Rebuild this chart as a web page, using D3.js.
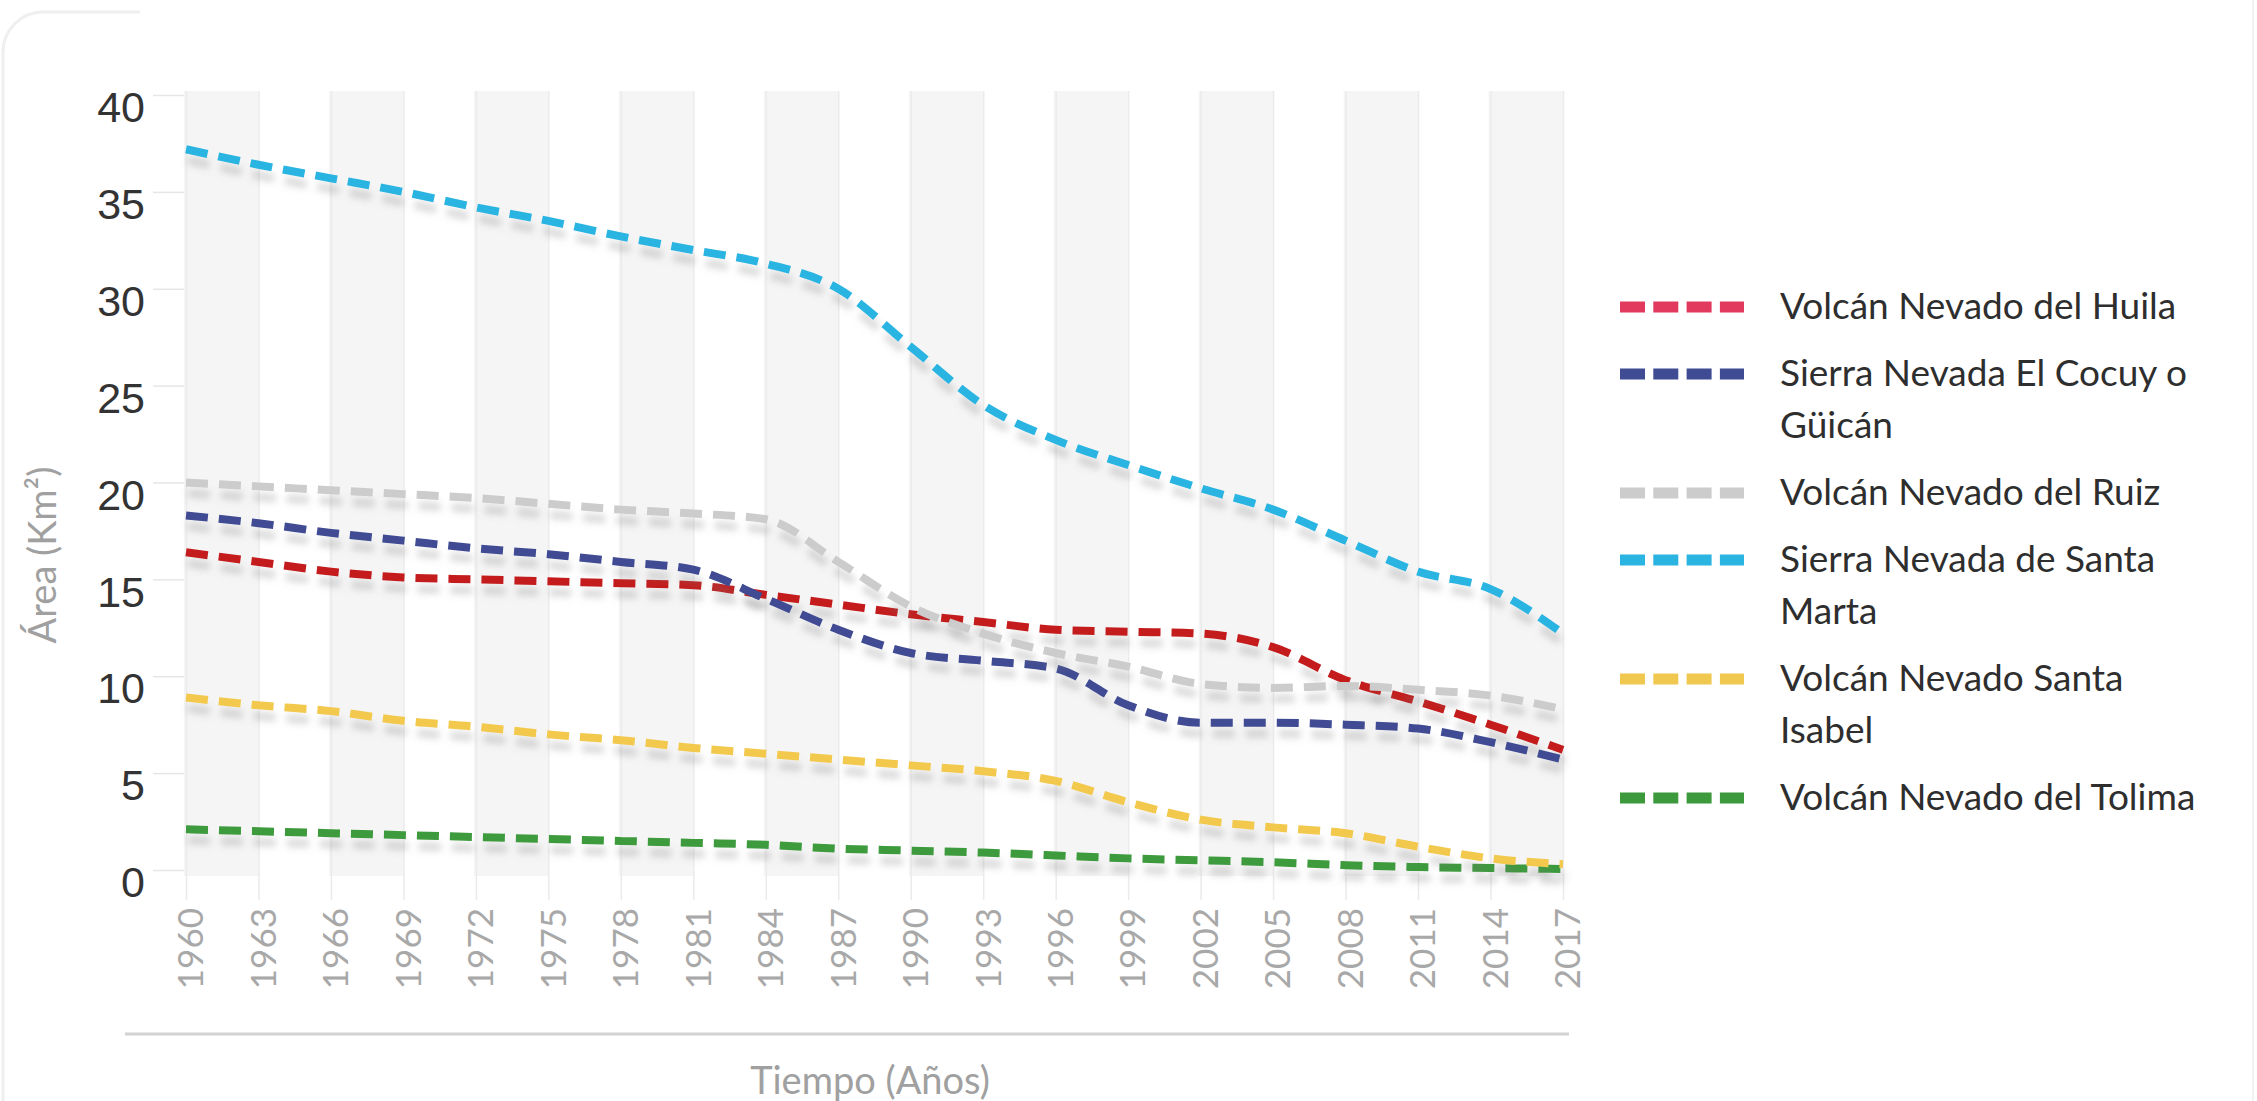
<!DOCTYPE html>
<html>
<head>
<meta charset="utf-8">
<script src="https://cdn.jsdelivr.net/npm/d3@7"></script>
<style>
    body { margin: 0; background: #fff; }
    .y-axis text { font-family: "Liberation Sans", Arial, sans-serif; font-size: 43px; fill: #333; }
    .x-axis text { font-family: Lato, sans-serif; font-size: 35px; fill: #a8a8a8; }
    .axis-title { font-family: Lato, sans-serif; font-size: 38px; fill: #a0a0a0; }
    .legend-text { font-family: Lato, sans-serif; font-size: 37px; fill: #2e2e2e; }
</style>
</head>
<body>
<div id="chart"></div>
<script>
// years on the x axis (one point every 3 years)
var years = [1960, 1963, 1966, 1969, 1972, 1975, 1978, 1981, 1984, 1987,
             1990, 1993, 1996, 1999, 2002, 2005, 2008, 2011, 2014, 2017];

// glacier area, km2
var huila       = [16.4, 15.9, 15.4, 15.1, 15.0, 14.9, 14.8, 14.7, 14.2, 13.7,
                   13.2, 12.8, 12.4, 12.3, 12.2, 11.5, 9.8, 8.7, 7.5, 6.2];
var cocuy       = [18.3, 17.9, 17.4, 17.0, 16.6, 16.3, 15.9, 15.5, 14.0, 12.4,
                   11.2, 10.8, 10.4, 8.5, 7.6, 7.6, 7.5, 7.3, 6.6, 5.7];
var ruiz        = [20.0, 19.8, 19.6, 19.4, 19.2, 18.9, 18.6, 18.4, 18.1, 15.9,
                   13.6, 12.2, 11.2, 10.5, 9.6, 9.4, 9.5, 9.3, 9.0, 8.3];
var santaMarta  = [37.2, 36.4, 35.7, 35.0, 34.2, 33.5, 32.7, 32.0, 31.3, 30.0,
                   27.0, 24.0, 22.2, 20.9, 19.7, 18.6, 17.0, 15.4, 14.5, 12.2];
var santaIsabel = [8.9, 8.5, 8.2, 7.7, 7.4, 7.0, 6.7, 6.3, 6.0, 5.7,
                   5.4, 5.1, 4.6, 3.5, 2.6, 2.2, 1.9, 1.2, 0.6, 0.3];
var tolima      = [2.1, 2.0, 1.9, 1.8, 1.7, 1.6, 1.5, 1.4, 1.3, 1.1,
                   1.0, 0.9, 0.75, 0.6, 0.5, 0.4, 0.25, 0.15, 0.1, 0.05];

var seriesNames = ['Volcán Nevado del Huila', 'Sierra Nevada El Cocuy o Güicán',
                   'Volcán Nevado del Ruiz', 'Sierra Nevada de Santa Marta',
                   'Volcán Nevado Santa Isabel', 'Volcán Nevado del Tolima'];
var yTicks = [0, 5, 10, 15, 20, 25, 30, 35, 40];

(function() {
    var width = 2257,
        height = 1101,
        plot = { left: 184, right: 1565, top: 91, bottom: 870 },
        line_colors = ['#c41c1e', '#3f4c93', '#cccccc', '#2ab4e2', '#f2c94e', '#3c9a3c'],
        legend_colors = ['#e23a5e', '#3f4c93', '#cccccc', '#2ab4e2', '#f0c850', '#3c9a3c'],
        values = [huila, cocuy, ruiz, santaMarta, santaIsabel, tolima];

    var svg = d3.select('#chart').append('svg')
        .attr('width', width)
        .attr('height', height);

    // drop shadow for the series
    var filter = svg.append('defs').append('filter')
        .attr('id', 'shadow')
        .attr('filterUnits', 'userSpaceOnUse')
        .attr('x', 0).attr('y', 0)
        .attr('width', width).attr('height', height);
    filter.append('feGaussianBlur')
        .attr('in', 'SourceAlpha').attr('stdDeviation', 3.5).attr('result', 'blur');
    filter.append('feOffset')
        .attr('in', 'blur').attr('dx', 2).attr('dy', 11).attr('result', 'off');
    filter.append('feFlood')
        .attr('flood-color', '#777').attr('flood-opacity', 0.28);
    filter.append('feComposite')
        .attr('in2', 'off').attr('operator', 'in').attr('result', 'sh');
    var merge = filter.append('feMerge');
    merge.append('feMergeNode').attr('in', 'sh');
    merge.append('feMergeNode').attr('in', 'SourceGraphic');

    // container border (only the left side, corner and right edge show)
    svg.append('path')
        .attr('d', 'M3,' + height + ' V52 A40,40 0 0,1 43,12 H140')
        .attr('fill', 'none')
        .attr('stroke', '#efefef')
        .attr('stroke-width', 3);
    svg.append('line')
        .attr('x1', 2253).attr('x2', 2253)
        .attr('y1', 0).attr('y2', height)
        .attr('stroke', '#f2f2f2')
        .attr('stroke-width', 2);

    var x = d3.scaleLinear().domain([years[0], years[years.length - 1]]).range([186, 1563]);
    var y = d3.scaleLinear().domain([0, 40]).range([plot.bottom, plot.top + 4]);

    // alternating plot bands
    var bands = d3.pairs(years).filter(function(d, i) { return i % 2 == 0; });
    svg.append('g').selectAll('rect')
        .data(bands)
        .enter().append('rect')
        .attr('x', function(d) { return x(d[0]) - 2; })
        .attr('y', plot.top)
        .attr('width', function(d) { return x(d[1]) - x(d[0]) + 2; })
        .attr('height', plot.bottom - plot.top + 6)
        .attr('fill', '#f5f5f5');

    // x axis: faint grid + rotated year labels
    var xAxis = svg.append('g')
        .attr('class', 'x-axis')
        .attr('transform', 'translate(0,' + plot.bottom + ')')
        .call(d3.axisBottom(x).tickValues(years).tickFormat(d3.format('d')).tickSize(30));
    xAxis.select('.domain').remove();
    xAxis.selectAll('line')
        .attr('y1', -(plot.bottom - plot.top))
        .attr('stroke', '#ebebeb')
        .attr('stroke-width', 1.5);
    xAxis.selectAll('text')
        .attr('transform', 'rotate(-90)')
        .attr('x', -38)
        .attr('y', 0)
        .attr('dy', '0.48em')
        .style('text-anchor', 'end');

    // y axis
    var yAxis = svg.append('g')
        .attr('class', 'y-axis')
        .attr('transform', 'translate(' + plot.left + ',0)')
        .call(d3.axisLeft(y).tickValues(yTicks).tickSize(31).tickPadding(8));
    yAxis.select('.domain').remove();
    yAxis.selectAll('line').attr('stroke', '#e6e6e6').attr('stroke-width', 1.5);
    yAxis.selectAll('text').attr('dy', '0.62em');

    // series
    var line = d3.line()
        .x(function(d, i) { return x(years[i]); })
        .y(function(d) { return y(d); })
        .curve(d3.curveMonotoneX);

    // draw bottom-up so the top lines sit over the shadows
    var order = [5, 4, 0, 1, 2, 3];
    svg.append('g').selectAll('path')
        .data(order)
        .enter().append('path')
        .attr('d', function(k) { return line(values[k]); })
        .attr('fill', 'none')
        .attr('stroke', function(k) { return line_colors[k]; })
        .attr('stroke-width', 8)
        .attr('stroke-dasharray', '22,11')
        .attr('filter', 'url(#shadow)');

    // bottom rule
    svg.append('line')
        .attr('x1', 125).attr('x2', 1569)
        .attr('y1', 1034).attr('y2', 1034)
        .attr('stroke', '#d2d2d2')
        .attr('stroke-width', 3);

    // axis titles
    svg.append('text')
        .attr('class', 'axis-title')
        .attr('x', 870)
        .attr('y', 1094)
        .attr('text-anchor', 'middle')
        .text('Tiempo (Años)');

    svg.append('text')
        .attr('class', 'axis-title')
        .attr('transform', 'translate(56,555) rotate(-90)')
        .attr('text-anchor', 'middle')
        .text('Área (Km²)');

    // legend
    var legend_x = 1620,
        text_x = 1780,
        wrap_width = 432,
        line_height = 52,
        item_gap = 15,
        baseline = 319;

    seriesNames.forEach(function(name, k) {
        var g = svg.append('g');
        g.append('line')
            .attr('x1', legend_x).attr('x2', legend_x + 124)
            .attr('y1', baseline - 12).attr('y2', baseline - 12)
            .attr('stroke', legend_colors[k])
            .attr('stroke-width', 11)
            .attr('stroke-dasharray', '25,8.3');

        var text = g.append('text')
            .attr('class', 'legend-text')
            .attr('x', text_x)
            .attr('y', baseline);
        var words = name.split(' '),
            current = [],
            n_lines = 1,
            tspan = text.append('tspan').attr('x', text_x).attr('dy', 0);
        words.forEach(function(w) {
            current.push(w);
            tspan.text(current.join(' '));
            if (tspan.node().getComputedTextLength() > wrap_width && current.length > 1) {
                current.pop();
                tspan.text(current.join(' '));
                current = [w];
                tspan = text.append('tspan').attr('x', text_x).attr('dy', line_height).text(w);
                n_lines++;
            }
        });
        baseline += n_lines * line_height + item_gap;
    });
})();
</script>
</body>
</html>
